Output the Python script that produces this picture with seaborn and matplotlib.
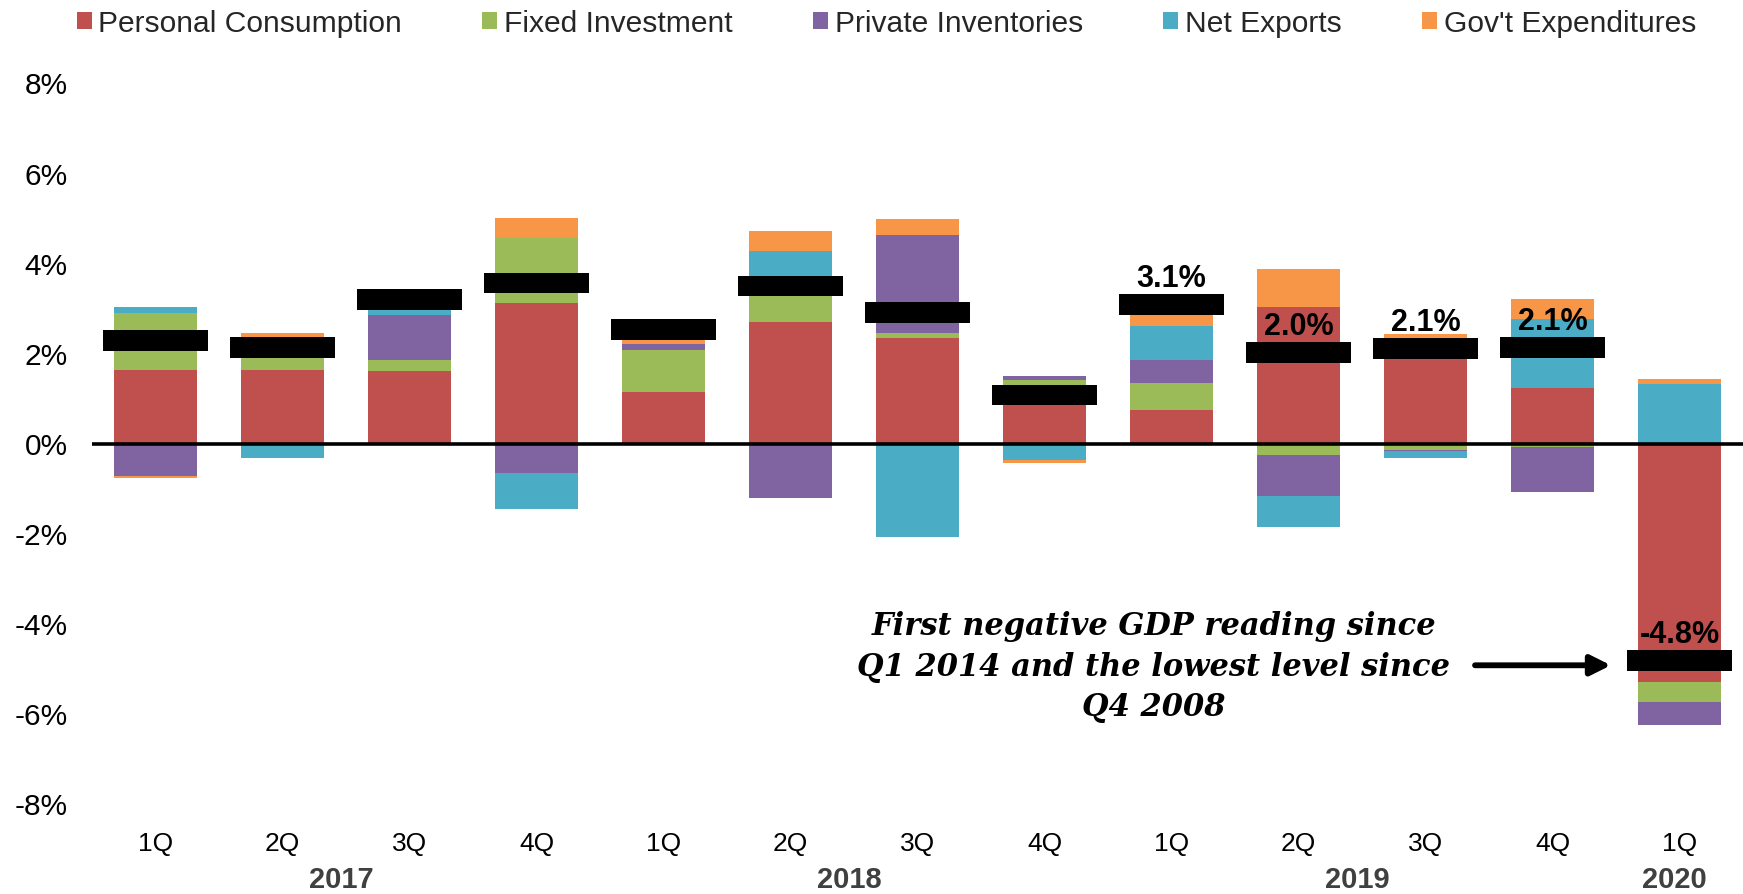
import numpy as np
import pandas as pd
import matplotlib
matplotlib.use("Agg")
import matplotlib.pyplot as plt
from matplotlib.patches import Patch
import seaborn as sns

# ---------------- data ----------------
quarters = ["1Q", "2Q", "3Q", "4Q", "1Q", "2Q", "3Q", "4Q", "1Q", "2Q", "3Q", "4Q", "1Q"]
years = ["2017", "2018", "2019", "2020"]
quarters_per_year = [4, 4, 4, 1]

series_names = ["Personal Consumption", "Fixed Investment", "Private Inventories",
                "Net Exports", "Gov't Expenditures"]
personal_consumption = [1.64, 1.64, 1.61, 3.13, 1.14, 2.70, 2.34, 0.98, 0.76, 3.03, 2.33, 1.24, -5.29]
fixed_investment = [1.26, 0.74, 0.25, 1.45, 0.95, 0.85, 0.13, 0.44, 0.58, -0.26, -0.14, -0.08, -0.44]
private_inventories = [-0.72, 0.00, 1.01, -0.64, 0.13, -1.21, 2.16, 0.08, 0.53, -0.91, -0.03, -0.99, -0.52]
net_exports = [0.14, -0.32, 0.15, -0.81, 0.00, 0.72, -2.07, -0.36, 0.74, -0.68, -0.14, 1.53, 1.32]
govt_expenditures = [-0.03, 0.08, 0.19, 0.43, 0.32, 0.45, 0.36, -0.07, 0.49, 0.84, 0.10, 0.44, 0.12]
gdp_growth = [2.30, 2.14, 3.21, 3.57, 2.54, 3.50, 2.92, 1.08, 3.10, 2.02, 2.11, 2.14, -4.82]
gdp_labels = ["", "", "", "", "", "", "", "", "3.1%", "2.0%", "2.1%", "2.1%", "-4.8%"]

y_ticks = [-8, -6, -4, -2, 0, 2, 4, 6, 8]
y_tick_labels = ["-8%", "-6%", "-4%", "-2%", "0%", "2%", "4%", "6%", "8%"]

annotation_text = "First negative GDP reading since\nQ1 2014 and the lowest level since\nQ4 2008"

colors = ["#C0504D", "#9BBB59", "#8064A2", "#4BACC6", "#F79646"]

# ---------------- plot ----------------
sns.set_theme(style="white")
plt.rcParams["font.family"] = ["Liberation Sans", "DejaVu Sans"]

fig = plt.figure(figsize=(17.43, 8.94), dpi=100)
ax = fig.add_axes([0.0528, 0.1007, 0.9472, 0.8059])

n = len(quarters)
period_ids = [f"p{i}" for i in range(n)]
vals = np.array([personal_consumption, fixed_investment, private_inventories,
                 net_exports, govt_expenditures])
cum_pos = np.cumsum(np.clip(vals, 0, None), axis=0)
cum_neg = np.cumsum(np.clip(vals, None, 0), axis=0)

for k in reversed(range(len(series_names))):
    for cum in (cum_pos, cum_neg):
        df = pd.DataFrame({"period": period_ids, "value": cum[k]})
        sns.barplot(data=df, x="period", y="value", order=period_ids, color=colors[k],
                    saturation=1, width=0.66, errorbar=None, linewidth=0, ax=ax, zorder=2)

ax.axhline(0, color="black", lw=2.6, zorder=4)

gdp = np.array(gdp_growth)
mark_h = 0.46
ax.bar(np.arange(n), mark_h, bottom=gdp - mark_h / 2, width=0.83, color="black",
       linewidth=0, zorder=6)

for i, lbl in enumerate(gdp_labels):
    if lbl:
        ax.annotate(lbl, (i, gdp[i] + mark_h / 2), xytext=(0, 0), textcoords="offset points",
                    ha="center", va="bottom", fontsize=22, fontweight="bold", color="black",
                    zorder=7)

ax.set_xlim(-0.5, n - 0.5)
ax.set_ylim(-8, 8)
ax.set_yticks(y_ticks)
ax.set_yticklabels(y_tick_labels, fontsize=21.5, color="black")
ax.set_xticks(np.arange(n))
ax.set_xticklabels(quarters, fontsize=19, color="black")
ax.tick_params(axis="both", length=0)
ax.tick_params(axis="y", pad=17.5)
ax.tick_params(axis="x", pad=20.5)
ax.set_xlabel("")
ax.set_ylabel("")
for s in ax.spines.values():
    s.set_visible(False)
ax.grid(False)

start = 0
for yr, cnt in zip(years, quarters_per_year):
    ax.text(start + (cnt - 1) / 2 - 0.04, -0.106, yr, transform=ax.get_xaxis_transform(),
            ha="center", va="center", fontsize=21, fontweight="bold", color="#404040")
    start += cnt

ax.text(7.86, -4.96, annotation_text, ha="center", va="center", fontsize=22,
        fontweight="bold", fontstyle="italic", family=["DejaVu Serif", "Liberation Serif"],
        linespacing=1.4, color="black", zorder=7)
ax.annotate("", xy=(11.46, -4.92), xytext=(10.39, -4.92),
            arrowprops=dict(arrowstyle="-|>", lw=4.2, color="black", mutation_scale=30,
                            shrinkA=0, shrinkB=0, capstyle="round"), zorder=7)

handles = [Patch(facecolor=c, edgecolor="none") for c in colors]
fig.legend(handles, series_names, loc="upper left", bbox_to_anchor=(0.0405, 0.996), ncol=5,
           frameon=False, fontsize=21.6, handlelength=0.5, handleheight=0.5,
           handletextpad=0.23, columnspacing=2.67, borderaxespad=0, borderpad=0.2)

fig.savefig("out.png", dpi=100)
